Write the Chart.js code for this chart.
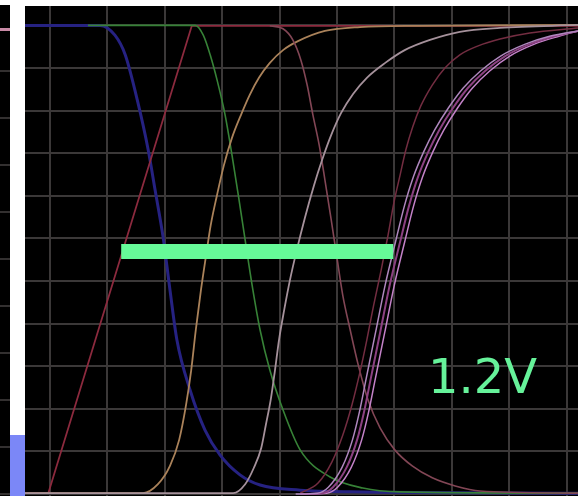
<!DOCTYPE html>
<html>
<head>
<meta charset="utf-8">
<script src="https://cdn.jsdelivr.net/npm/chart.js@4.4.1/dist/chart.umd.min.js"></script>
<style>
    html, body { margin: 0; padding: 0; background: #fff; }
    body { width: 578px; height: 496px; position: relative; overflow: hidden; }
    #strip {
        position: absolute; left: 0; top: 5px; width: 10px; height: 491px;
        background-color: #000;
        background-image: repeating-linear-gradient(to bottom, transparent 0, transparent 45px, #333030 45px, #333030 47px);
        background-position: 0 20px;
    }
    #strip-trace { position: absolute; left: 0; top: 28px; width: 10px; height: 3px; background: #c98aa6; }
    #blue-bar { position: absolute; left: 10px; top: 435px; width: 15px; height: 61px; background: #7b87f7; }
    #plot { position: absolute; left: 25px; top: 6px; width: 553px; height: 490px; background: #000; }
    #label {
        position: absolute; left: 428px; top: 352px;
        font-family: "DejaVu Sans", sans-serif; font-size: 48px; line-height: 48px;
        color: #66f29a; white-space: nowrap;
    }
</style>
</head>
<body>
<div id="strip"></div>
<div id="strip-trace"></div>
<div id="blue-bar"></div>
<div id="plot"><canvas id="scope"></canvas></div>
<div id="label">1.2V</div>
<script>
// grid divisions
const xTicks = [0, 1, 2, 3, 4, 5, 6, 7, 8, 9];
const yTicks = [0, 1, 2, 3, 4, 5, 6, 7, 8, 9, 10, 11];

// traces, in divisions
const redX = [-0.44, -0.03, 2.47, 9.20];
const redY = [0.02, 0.02, 10.99, 10.99];

const blueX = [-0.44, 0.87, 1.13, 1.31, 1.52, 1.71, 1.83, 1.97, 2.09, 2.21, 2.44, 2.70, 2.96, 3.31, 3.66, 4.36, 5.23, 9.20];
const blueY = [11.0, 11.0, 10.77, 10.31, 9.25, 8.08, 7.14, 6.03, 4.79, 3.62, 2.44, 1.50, 0.92, 0.45, 0.21, 0.09, 0.05, 0.02];

const greenX = [0.66, 2.53, 2.67, 2.79, 2.91, 3.05, 3.17, 3.28, 3.40, 3.52, 3.66, 3.83, 4.06, 4.36, 4.88, 5.45, 6.10, 9.20];
const greenY = [11.0, 11.0, 10.77, 10.31, 9.72, 8.90, 7.96, 7.02, 5.96, 4.91, 3.85, 2.91, 1.97, 1.03, 0.40, 0.14, 0.05, 0.02];

const tanX = [-0.44, 1.62, 1.88, 2.09, 2.25, 2.37, 2.46, 2.54, 2.63, 2.72, 2.80, 2.91, 3.03, 3.17, 3.34, 3.48, 3.64, 3.83, 4.06, 4.32, 4.79, 5.40, 6.45, 9.20];
const tanY = [0.02, 0.02, 0.23, 0.66, 1.27, 2.09, 2.91, 3.85, 4.79, 5.61, 6.31, 7.02, 7.72, 8.36, 8.94, 9.37, 9.77, 10.12, 10.42, 10.63, 10.87, 10.96, 10.99, 11.01];

const fallX = [3.83, 4.06, 4.23, 4.37, 4.48, 4.58, 4.69, 4.79, 4.90, 5.00, 5.10, 5.23, 5.37, 5.54, 5.75, 6.01, 6.31, 6.66, 7.06, 7.49, 9.20];
const fallY = [10.99, 10.92, 10.66, 10.19, 9.60, 8.90, 8.19, 7.37, 6.43, 5.54, 4.67, 3.85, 3.03, 2.21, 1.55, 1.03, 0.66, 0.38, 0.19, 0.07, 0.02];

const greyX = [-0.44, 3.19, 3.40, 3.55, 3.68, 3.76, 3.85, 3.92, 3.99, 4.08, 4.18, 4.30, 4.44, 4.60, 4.74, 4.90, 5.07, 5.28, 5.52, 5.84, 6.18, 6.62, 7.14, 7.84, 9.20];
const greyY = [0.02, 0.02, 0.23, 0.61, 1.08, 1.62, 2.25, 2.91, 3.62, 4.32, 5.02, 5.73, 6.48, 7.25, 7.84, 8.43, 8.94, 9.39, 9.77, 10.12, 10.42, 10.66, 10.85, 10.94, 11.01];

const riseX = [4.36, 4.67, 4.91, 5.10, 5.26, 5.40, 5.52, 5.64, 5.77, 5.89, 5.99, 6.10, 6.20, 6.32, 6.46, 6.66, 6.88, 7.14, 7.46, 7.84, 8.36, 9.20];
const riseY = [0.02, 0.26, 0.75, 1.38, 2.09, 2.86, 3.62, 4.44, 5.26, 6.08, 6.83, 7.49, 8.08, 8.62, 9.11, 9.60, 10.0, 10.31, 10.52, 10.68, 10.82, 10.94];

const bundleY = [0.00, 0.02, 0.16, 0.63, 1.27, 1.92, 2.72, 3.78, 4.91, 5.92, 6.74, 7.44, 8.03, 8.54, 9.06, 9.53, 9.93, 10.28, 10.56, 10.75, 10.87];
const bundleX1 = [4.28, 4.66, 4.85, 5.09, 5.27, 5.39, 5.51, 5.67, 5.84, 6.02, 6.17, 6.33, 6.51, 6.70, 6.94, 7.20, 7.50, 7.85, 8.28, 8.72, 9.20];
const bundleX2 = [4.36, 4.74, 4.93, 5.17, 5.35, 5.47, 5.59, 5.75, 5.92, 6.10, 6.25, 6.41, 6.59, 6.78, 7.02, 7.28, 7.58, 7.93, 8.36, 8.80, 9.20];
const bundleX3 = [4.44, 4.82, 5.01, 5.25, 5.43, 5.55, 5.67, 5.83, 6.00, 6.18, 6.33, 6.49, 6.67, 6.86, 7.10, 7.36, 7.66, 8.01, 8.44, 8.88, 9.20];

// delay marker bar
const markerX = [1.24, 5.98];
const markerY = [5.69, 5.69];

function pts(xs, ys) {
    return xs.map((x, i) => ({ x: x, y: ys[i] }));
}

function trace(xs, ys, color, width, smooth) {
    return {
        data: pts(xs, ys),
        borderColor: color,
        borderWidth: width,
        pointRadius: 0,
        fill: false,
        tension: 0,
        cubicInterpolationMode: smooth ? 'monotone' : 'default'
    };
}

const marker = trace(markerX, markerY, '#66fa98', 15, false);
marker.borderCapStyle = 'butt';

const gridStyle = { color: '#3b3838', lineWidth: 2, drawTicks: false };

new Chart(document.getElementById('scope'), {
    type: 'line',
    data: {
        datasets: [
            marker,
            trace(bundleX1, bundleY, 'rgb(175,135,190)', 1.5, true),
            trace(bundleX2, bundleY, 'rgb(140,65,130)', 2, true),
            trace(bundleX3, bundleY, 'rgb(195,130,200)', 1.5, true),
            trace(riseX, riseY, 'rgb(115,45,65)', 1.5, true),
            trace(greyX, greyY, 'rgb(165,145,155)', 1.8, true),
            trace(fallX, fallY, 'rgb(130,70,85)', 1.6, true),
            trace(tanX, tanY, 'rgb(170,130,90)', 1.8, true),
            trace(greenX, greenY, 'rgb(55,130,55)', 1.6, true),
            trace(redX, redY, 'rgb(140,42,62)', 1.8, false),
            trace(blueX, blueY, 'rgb(38,34,130)', 3, true)
        ]
    },
    options: {
        responsive: true,
        maintainAspectRatio: false,
        animation: false,
        layout: { padding: 0, autoPadding: false },
        plugins: {
            legend: { display: false },
            tooltip: { enabled: false }
        },
        scales: {
            x: {
                type: 'linear',
                min: -0.436,
                max: 9.199,
                afterBuildTicks: axis => { axis.ticks = xTicks.map(v => ({ value: v })); },
                ticks: { display: false },
                grid: gridStyle,
                border: { display: false }
            },
            y: {
                type: 'linear',
                min: -0.047,
                max: 11.455,
                afterBuildTicks: axis => { axis.ticks = yTicks.map(v => ({ value: v })); },
                ticks: { display: false },
                grid: gridStyle,
                border: { display: false }
            }
        }
    }
});
</script>
</body>
</html>
